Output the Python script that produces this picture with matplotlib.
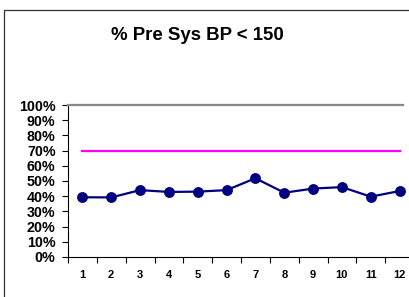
import matplotlib.pyplot as plt
from matplotlib.patches import Rectangle
from matplotlib.ticker import PercentFormatter

plt.rcParams["font.family"] = ["Liberation Sans", "DejaVu Sans"]

months = list(range(1, 13))
pct_below = [39.3, 39.2, 44.0, 42.8, 43.0, 44.0, 51.8, 42.3, 45.0, 46.0, 39.7, 43.4]
target = [70] * 12
y_ticks = list(range(0, 101, 10))

fig = plt.figure(figsize=(4.09, 2.97), dpi=100)

# outer chart frame (cropped on right and bottom)
fig.patches.append(Rectangle((4 / 409, -0.1), 1.2, 1 - 10 / 297 + 0.1,
                             transform=fig.transFigure, fill=False,
                             edgecolor="#333333", linewidth=0.9))

ax = fig.add_axes([68 / 409, 40 / 297, 346 / 409, 152 / 297])

ax.plot(months, target, color="#FF00FF", linewidth=1.6)
ax.plot(months, pct_below, color="#000080", linewidth=1.6,
        marker="o", markersize=6.8)

ax.set_xlim(0.5, 12.5)
ax.set_ylim(0, 100)
ax.set_yticks(y_ticks)
ax.yaxis.set_major_formatter(PercentFormatter(decimals=0))
ax.set_xticks([m + 0.5 for m in range(0, 13)])
ax.set_xticklabels([])
ax.set_xticks(months, minor=True)
ax.set_xticklabels([str(m) for m in months], minor=True)
ax.tick_params(axis="x", which="minor", length=0, pad=9, labelsize=8)
ax.tick_params(axis="x", which="major", length=4, width=0.8, direction="out")
ax.tick_params(axis="y", length=4, width=0.8, direction="out", pad=5,
               labelsize=10.3)
for lbl in ax.get_yticklabels() + ax.get_xticklabels(minor=True):
    lbl.set_fontweight("bold")

ax.spines["top"].set_color("#888888")
ax.spines["top"].set_linewidth(1.6)
ax.spines["top"].set_bounds(0.5, 12.12)
ax.spines["right"].set_visible(False)
ax.spines["left"].set_linewidth(0.8)
ax.spines["bottom"].set_linewidth(0.8)

fig.text(197 / 409, 1 - 35 / 297, "% Pre Sys BP < 150", ha="center",
         va="center", fontsize=13.4, fontweight="bold")

fig.savefig("out.png", dpi=100)
